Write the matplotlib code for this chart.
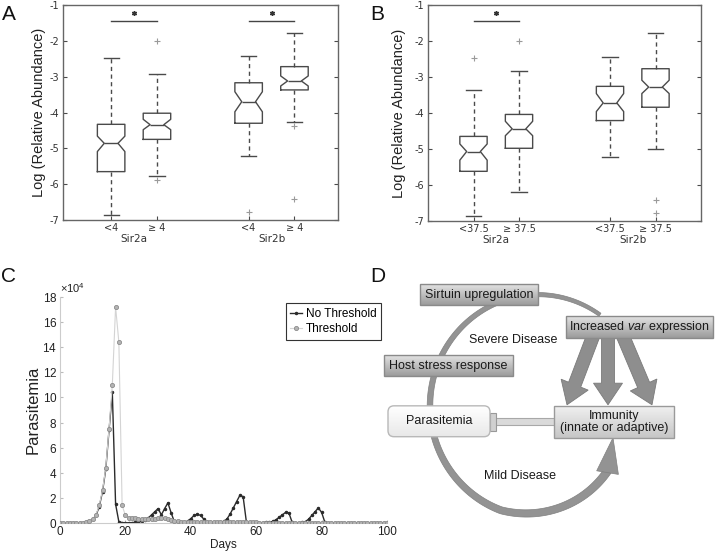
import numpy as np
import matplotlib
matplotlib.use('Agg')
import matplotlib.pyplot as plt
from matplotlib.patches import Rectangle, FancyBboxPatch, Polygon, FancyArrow
from matplotlib.colors import to_rgb

plt.rcParams['axes.unicode_minus'] = False
plt.rcParams['mathtext.fontset'] = 'custom'
plt.rcParams['mathtext.rm'] = 'Liberation Sans'
plt.rcParams['mathtext.it'] = 'Liberation Sans:italic'

SANS = 'Liberation Sans'

# ---------------- Data: panel A ----------------
GROUPS = ['Sir2a', 'Sir2b']
A_TICKS = ['<4', '\u2265 4', '<4', '\u2265 4']
A_WHISHI = [-2.47, -2.93, -2.42, -1.77]
A_Q3 = [-4.33, -4.02, -3.17, -2.72]
A_CIHI = [-4.66, -4.19, -3.42, -2.98]
A_MED = [-4.86, -4.34, -3.70, -3.12]
A_CILO = [-5.09, -4.48, -3.98, -3.26]
A_Q1 = [-5.65, -4.75, -4.30, -3.37]
A_WHISLO = [-6.86, -5.77, -5.21, -4.27]
A_FLIERS = [[], [-5.88, -2.00], [-6.77], [-4.38, -6.41]]
A_SIG = [(0, 1), (2, 3)]

# ---------------- Data: panel B ----------------
B_TICKS = ['<37.5', '\u2265 37.5', '<37.5', '\u2265 37.5']
B_WHISHI = [-3.37, -2.83, -2.44, -1.79]
B_Q3 = [-4.65, -4.04, -3.26, -2.77]
B_CIHI = [-4.86, -4.23, -3.46, -3.09]
B_MED = [-5.07, -4.44, -3.72, -3.28]
B_CILO = [-5.31, -4.63, -3.96, -3.46]
B_Q1 = [-5.62, -4.98, -4.21, -3.84]
B_WHISLO = [-6.86, -6.19, -5.21, -5.00]
B_FLIERS = [[-2.47], [-2.00], [], [-6.42, -6.78]]
B_SIG = [(0, 1)]

# ---------------- Data: panel C (parasitemia, units of 10^4) ----------------
DAYS = list(range(101))
NO_THRESHOLD = [
    0.01, 0.01, 0.01, 0.01, 0.01, 0.01, 0.01, 0.01, 0.05, 0.12,
    0.28, 0.60, 1.30, 2.50, 4.30, 7.40, 10.40, 1.50, 0.10, 0.03,
    0.02, 0.02, 0.03, 0.05, 0.08, 0.12, 0.20, 0.40, 0.65, 0.90,
    1.15, 0.65, 1.15, 1.60, 0.80, 0.08, 0.03, 0.03, 0.06, 0.15,
    0.35, 0.60, 0.70, 0.60, 0.30, 0.04, 0.02, 0.02, 0.03, 0.05,
    0.12, 0.30, 0.70, 1.20, 1.70, 2.20, 2.10, 0.08, 0.02, 0.02,
    0.02, 0.02, 0.03, 0.04, 0.07, 0.12, 0.25, 0.45, 0.65, 0.85,
    0.80, 0.05, 0.02, 0.02, 0.04, 0.10, 0.30, 0.60, 0.90, 1.20,
    0.85, 0.06, 0.02, 0.02, 0.02, 0.02, 0.02, 0.02, 0.02, 0.02,
    0.02, 0.02, 0.02, 0.02, 0.02, 0.02, 0.02, 0.02, 0.02, 0.02,
    0.02]
THRESHOLD = [
    0.02, 0.02, 0.02, 0.02, 0.02, 0.02, 0.02, 0.02, 0.06, 0.13,
    0.30, 0.65, 1.40, 2.60, 4.40, 7.50, 11.00, 17.20, 14.40, 1.40,
    0.60, 0.42, 0.38, 0.36, 0.35, 0.35, 0.34, 0.33, 0.32, 0.33,
    0.37, 0.42, 0.38, 0.30, 0.22, 0.16, 0.13, 0.11, 0.10, 0.09,
    0.09, 0.08, 0.08, 0.07, 0.07, 0.06, 0.06, 0.05, 0.05, 0.05,
    0.04, 0.04, 0.04, 0.04, 0.04, 0.04, 0.04, 0.04, 0.04, 0.04,
    0.04, 0.03, 0.03, 0.03, 0.03, 0.03, 0.03, 0.03, 0.03, 0.03,
    0.03, 0.03, 0.03, 0.03, 0.03, 0.03, 0.03, 0.03, 0.03, 0.03,
    0.03, 0.03, 0.03, 0.03, 0.03, 0.03, 0.03, 0.03, 0.03, 0.03,
    0.03, 0.03, 0.03, 0.03, 0.03, 0.03, 0.03, 0.03, 0.03, 0.03,
    0.03]
C_SCALE = 1e4
C_LABELS = ['No Threshold', 'Threshold']

# ---------------- Figure ----------------
W, H = 720, 552
fig = plt.figure(figsize=(W / 100, H / 100), dpi=100)
fig.patch.set_facecolor('white')

POS = [1, 2, 4, 5]
BOXC = '#4a4a4a'


def box_panel(ax, whi, q3, cihi, med, cilo, q1, wlo, fliers, ticks, sig, xlim, ylab_x):
    stats = []
    for i in range(len(med)):
        stats.append(dict(med=med[i], q1=q1[i], q3=q3[i], whislo=wlo[i],
                          whishi=whi[i], cilo=cilo[i], cihi=cihi[i],
                          fliers=fliers[i]))
    ax.bxp(stats, positions=POS, widths=0.6, capwidths=0.33,
           shownotches=True, showfliers=True,
           boxprops=dict(color=BOXC, lw=1),
           whiskerprops=dict(color=BOXC, lw=1, linestyle=(0, (3, 2.5))),
           capprops=dict(color=BOXC, lw=1),
           medianprops=dict(color=BOXC, lw=1),
           flierprops=dict(marker='+', markeredgecolor='#9a9a9a',
                           markersize=4, markeredgewidth=0.8, linestyle='none'))
    ax.set_xlim(*xlim)
    ax.set_ylim(-7, -1)
    ax.set_yticks(range(-7, 0))
    ax.set_xticks(POS)
    ax.set_xticklabels(ticks)
    ax.tick_params(direction='in', length=3, color=BOXC, labelsize=7,
                   labelcolor='#333333', pad=2.5, right=True)
    for s in ax.spines.values():
        s.set_color('#666666')
        s.set_linewidth(1)
    ax.set_ylabel('Log (Relative Abundance)', fontsize=10.5, family=SANS,
                  color='#222222')
    ax.yaxis.set_label_coords(ylab_x, 0.5)
    for gi, g in enumerate(GROUPS):
        xc = (POS[2 * gi] + POS[2 * gi + 1]) / 2
        ax.text(xc, -0.09, g, transform=ax.get_xaxis_transform(), ha='center',
                va='center', fontsize=7.5, color='#333333')
    for (i, j) in sig:
        ax.plot([POS[i], POS[j]], [-1.44, -1.44], color='#444444', lw=1,
                clip_on=False)
        ax.plot([(POS[i] + POS[j]) / 2], [-1.23], marker=(6, 2, 0), ms=3.5,
                mew=1, color='#333333', clip_on=False)


axA = fig.add_axes([63 / W, (H - 220) / H, 275 / W, 215 / H])
box_panel(axA, A_WHISHI, A_Q3, A_CIHI, A_MED, A_CILO, A_Q1, A_WHISLO, A_FLIERS,
          A_TICKS, A_SIG, (-0.05, 5.95), -0.063)

axB = fig.add_axes([428 / W, (H - 221) / H, 273 / W, 216 / H])
box_panel(axB, B_WHISHI, B_Q3, B_CIHI, B_MED, B_CILO, B_Q1, B_WHISLO, B_FLIERS,
          B_TICKS, B_SIG, (0.0, 6.0), -0.082)

# ---------------- Panel C ----------------
axC = fig.add_axes([60 / W, (H - 523) / H, 327 / W, 226 / H])
axC.plot(DAYS, np.array(NO_THRESHOLD) * C_SCALE, color='#2b2b2b', lw=1,
         marker='.', ms=3, label=C_LABELS[0], zorder=2)
axC.plot(DAYS, np.array(THRESHOLD) * C_SCALE, color='#d4d4d4', lw=0.8,
         marker='o', ms=3, mfc='#b4b4b4', mec='#8c8c8c', mew=0.6,
         label=C_LABELS[1], zorder=3)
axC.set_xlim(0, 100)
axC.set_ylim(0, 18e4)
axC.set_xticks(range(0, 101, 20))
axC.set_yticks(np.arange(0, 18.1e4, 2e4))
axC.ticklabel_format(axis='y', style='sci', scilimits=(4, 4), useMathText=True)
axC.tick_params(direction='in', length=2, color='#bbbbbb', labelsize=8.5,
                labelcolor='#222222', pad=2, labelfontfamily=SANS)
axC.yaxis.get_offset_text().set_fontsize(8)
axC.yaxis.get_offset_text().set_family(SANS)
for side in ['top', 'right']:
    axC.spines[side].set_visible(False)
for side in ['left', 'bottom']:
    axC.spines[side].set_color('#cccccc')
    axC.spines[side].set_linewidth(0.8)
axC.set_ylabel('Parasitemia', fontsize=12, family=SANS, color='#222222')
axC.yaxis.set_label_coords(-0.06, 0.5)
axC.set_xlabel('Days', fontsize=8.5, family=SANS, color='#222222', labelpad=1)
leg = axC.legend(loc='upper right', bbox_to_anchor=(0.982, 0.973),
                 borderaxespad=0, fancybox=False, framealpha=1,
                 edgecolor='#333333', prop=dict(family=SANS, size=8.5),
                 handlelength=1.0, handletextpad=0.3, borderpad=0.4,
                 labelspacing=0.3)
leg.get_frame().set_linewidth(0.8)

# ---------------- Panel D (diagram, pixel coordinates) ----------------
axD = fig.add_axes([380 / W, 0, 340 / W, 280 / H])
axD.axis('off')


def grad_box(ax, x0, y0, x1, y1, ctop, cbot, edge, rounded=False, z=3):
    t = np.linspace(0, 1, 32)[:, None]
    c = (1 - t) * np.array(to_rgb(ctop)) + t * np.array(to_rgb(cbot))
    img = c[:, None, :]
    im = ax.imshow(img, extent=(x0, x1, y1, y0), aspect='auto', zorder=z,
                   interpolation='bilinear')
    if rounded:
        patch = FancyBboxPatch((x0, y0), x1 - x0, y1 - y0,
                               boxstyle='round,pad=0,rounding_size=6',
                               fc='none', ec=edge, lw=1, zorder=z + 0.1)
    else:
        patch = Rectangle((x0, y0), x1 - x0, y1 - y0, fc='none', ec=edge,
                          lw=1, zorder=z + 0.1)
    ax.add_patch(patch)
    im.set_clip_path(patch)


# circular arrow (ring)
RING_C = (538, 410)
deg = np.linspace(55, 318, 300)
th = np.radians(deg)
rad = np.where(deg < 250, 108, 108 - (deg - 250) / 68 * 14)
wid = 3.5 + (deg - 55) / (318 - 55) * 4.5
ox = RING_C[0] + (rad + wid / 2) * np.cos(th)
oy = RING_C[1] - (rad + wid / 2) * np.sin(th)
ix = RING_C[0] + (rad - wid / 2) * np.cos(th)
iy = RING_C[1] - (rad - wid / 2) * np.sin(th)
ring = np.vstack([np.column_stack([ox, oy]), np.column_stack([ix, iy])[::-1]])
axD.add_patch(Polygon(ring, closed=True, fc='#939393', ec='#808080', lw=0.5,
                      zorder=1))
end = np.array([RING_C[0] + rad[-1] * np.cos(th[-1]),
                RING_C[1] - rad[-1] * np.sin(th[-1])])
tip = np.array([613, 441])
d = (tip - end) / np.linalg.norm(tip - end)
nrm = np.array([-d[1], d[0]])
base = end - d * 2
head = np.array([base + nrm * 11, tip, base - nrm * 11])
axD.add_patch(Polygon(head, closed=True, fc='#939393', ec='#808080', lw=0.5,
                      zorder=1))

# three block arrows from var expression to immunity
ARROWS = [((594, 340), (567, 409)), ((608, 340), (608, 409)),
          ((622, 340), (652, 409))]
for (x0, y0), (x1, y1) in ARROWS:
    axD.add_patch(FancyArrow(x0, y0, x1 - x0, y1 - y0, width=13,
                             head_width=29, head_length=21,
                             length_includes_head=True, fc='#8e8e8e',
                             ec='#7a7a7a', lw=0.6, zorder=2))

# inhibition bar
axD.add_patch(Rectangle((495, 422), 60, 7, fc='#dadada', ec='#a8a8a8', lw=0.8,
                        zorder=2))
axD.add_patch(Rectangle((490, 417), 6, 17, fc='#d0d0d0', ec='#999999', lw=0.8,
                        zorder=2.5))

# boxes
grad_box(axD, 420, 292, 538, 312, '#e2e2e2', '#9c9c9c', '#8a8a8a')
grad_box(axD, 566, 323, 713, 344, '#e2e2e2', '#9c9c9c', '#8a8a8a')
grad_box(axD, 384, 361, 513, 381, '#e2e2e2', '#9c9c9c', '#8a8a8a')
grad_box(axD, 388, 410, 490, 440, '#ffffff', '#e8e8e8', '#b8b8b8', rounded=True)
grad_box(axD, 554, 410, 674, 441, '#f0f0f0', '#c6c6c6', '#9a9a9a')

TXT = dict(family=SANS, fontsize=9, color='#1a1a1a', ha='center', va='center',
           zorder=6)
axD.text(479, 302, 'Sirtuin upregulation', **TXT)
axD.text(639, 333.5, 'Increased $\\mathit{var}$ expression', **TXT)
axD.text(448, 371, 'Host stress response', **TXT)
axD.text(439, 425, 'Parasitemia', **TXT)
axD.text(614, 425.5, 'Immunity\n(innate or adaptive)', linespacing=1.05, **TXT)
axD.text(513, 346, 'Severe Disease', **TXT)
axD.text(520, 478, 'Mild Disease', **TXT)

axD.set_xlim(380, 720)
axD.set_ylim(552, 280)
axD.set_aspect('auto')

# panel letters
for lab, (px, py) in zip('ABCD', [(8.5, 14.5), (377.5, 14.5), (8.5, 277), (377.5, 277)]):
    fig.text(px / W, 1 - py / H, lab, fontsize=15, family=SANS, ha='center',
             va='center', color='#111111')

fig.savefig('out.png', dpi=100, facecolor='white')
